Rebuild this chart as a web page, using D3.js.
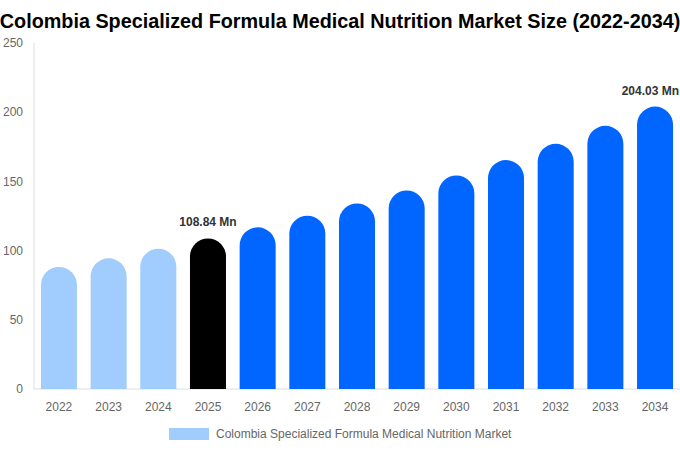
<!DOCTYPE html>
<html>
<head>
<meta charset="utf-8">
<script src="https://cdn.jsdelivr.net/npm/d3@7"></script>
<style>
  body { margin: 0; background: #fff; }
  svg { display: block; font-family: "Liberation Sans", Arial, sans-serif; }
</style>
</head>
<body>
<div id="chart"></div>
<script>
const years = ["2022","2023","2024","2025","2026","2027","2028","2029","2030","2031","2032","2033","2034"];
const values = [88.2, 94.4, 101.4, 108.84, 116.8, 125.2, 134.1, 143.5, 154.3, 165.4, 177.2, 190.2, 204.03];
const yTicks = [0, 50, 100, 150, 200, 250];
const labelled = { "2025": "108.84 Mn", "2034": "204.03 Mn" };
const seriesName = "Colombia Specialized Formula Medical Nutrition Market";

const width = 680, height = 450;
const margin = { top: 43, right: 0, bottom: 61, left: 34 };

const svg = d3.select("#chart").append("svg")
  .attr("width", width)
  .attr("height", height);

svg.append("text")
  .attr("x", width / 2)
  .attr("y", 28)
  .attr("text-anchor", "middle")
  .style("font-size", "19.8px")
  .style("font-weight", "bold")
  .style("fill", "#000")
  .text("Colombia Specialized Formula Medical Nutrition Market Size (2022-2034)");

const x = d3.scaleBand()
  .domain(years)
  .range([margin.left, width - margin.right])
  .paddingInner(0.275)
  .paddingOuter(0.14);

const y = d3.scaleLinear()
  .domain([0, 250])
  .range([height - margin.bottom, margin.top]);

// axis lines
svg.append("line")
  .attr("x1", margin.left).attr("x2", margin.left)
  .attr("y1", margin.top).attr("y2", y(0))
  .attr("stroke", "#ddd");
svg.append("line")
  .attr("x1", margin.left).attr("x2", width - margin.right)
  .attr("y1", y(0)).attr("y2", y(0))
  .attr("stroke", "#ddd");

svg.selectAll("text.ytick")
  .data(yTicks)
  .join("text")
  .attr("class", "ytick")
  .attr("x", 23)
  .attr("y", d => y(d))
  .attr("dy", "0.35em")
  .attr("text-anchor", "end")
  .style("font-size", "12px")
  .style("fill", "#666")
  .text(d => d);

svg.selectAll("text.xtick")
  .data(years)
  .join("text")
  .attr("class", "xtick")
  .attr("x", d => x(d) + x.bandwidth() / 2)
  .attr("y", y(0) + 22)
  .attr("text-anchor", "middle")
  .style("font-size", "12px")
  .style("fill", "#666")
  .text(d => d);

const color = (yr) => +yr < 2025 ? "#a0cdfd" : (yr === "2025" ? "#000000" : "#0066ff");

// bars with round tops
const bw = x.bandwidth();
const r = bw / 2;
svg.selectAll("path.bar")
  .data(years.map((yr, i) => ({ yr, v: values[i] })))
  .join("path")
  .attr("class", "bar")
  .attr("fill", d => color(d.yr))
  .attr("d", d => {
    const x0 = x(d.yr), x1 = x0 + bw;
    const top = y(d.v), base = y(0);
    return `M${x0},${base} L${x0},${top + r} A${r},${r} 0 0 1 ${x1},${top + r} L${x1},${base} Z`;
  });

svg.selectAll("text.vlabel")
  .data(years.filter(yr => labelled[yr]))
  .join("text")
  .attr("class", "vlabel")
  .attr("x", d => x(d) + bw / 2)
  .attr("y", d => y(values[years.indexOf(d)]) - 12)
  .attr("text-anchor", "middle")
  .style("font-size", "12px")
  .style("font-weight", "bold")
  .style("fill", "#333")
  .text(d => labelled[d])
  .each(function () {
    // nudge a label back inside if it runs past the right edge
    const b = this.getBBox();
    const over = b.x + b.width - (width - 1);
    if (over > 0) d3.select(this).attr("x", +d3.select(this).attr("x") - over);
  });

// legend
svg.append("rect")
  .attr("x", 169).attr("y", 428)
  .attr("width", 40).attr("height", 12)
  .attr("fill", "#a0cdfd");
svg.append("text")
  .attr("x", 216).attr("y", 434)
  .attr("dy", "0.35em")
  .style("font-size", "12px")
  .style("fill", "#666")
  .text(seriesName);
</script>
</body>
</html>
